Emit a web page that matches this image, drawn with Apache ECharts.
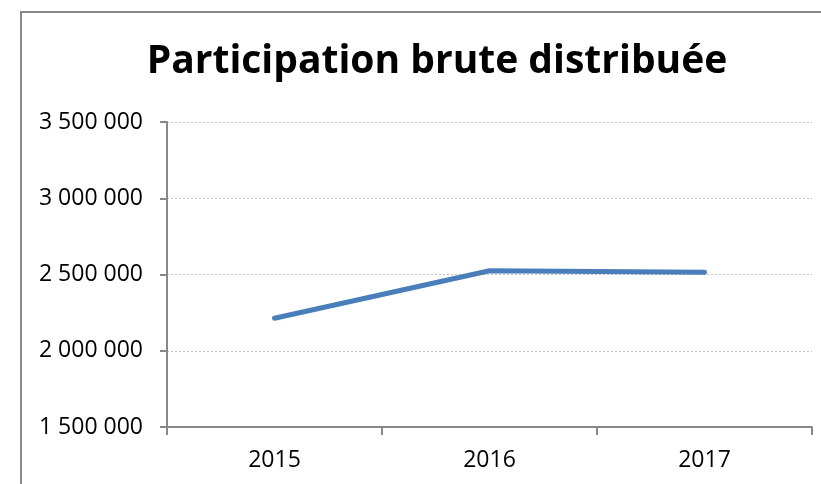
<!DOCTYPE html>
<html>
<head>
<meta charset="utf-8">
<script src="https://cdn.jsdelivr.net/npm/echarts@6/dist/echarts.min.js"></script>
<style>
  html, body { margin: 0; padding: 0; background: #fff; }
  #chart { width: 821px; height: 484px; }
</style>
</head>
<body>
<div id="chart"></div>
<script>
// données
var annees = ["2015", "2016", "2017"];
var participation = [2213000, 2525000, 2514000];
var graduations = [1500000, 2000000, 2500000, 3000000, 3500000];

function formatNombre(v) {
  return String(v).replace(/\B(?=(\d{3})+(?!\d))/g, " ");
}

var myChart = echarts.init(document.getElementById("chart"));

var option = {
  animation: false,
  textStyle: { fontFamily: "Open Sans" },
  title: {
    text: "Participation brute distribuée",
    left: 432,
    top: 37,
    textAlign: "center",
    textStyle: {
      fontFamily: "Open Sans",
      fontWeight: "bold",
      fontSize: 39,
      color: "#000"
    }
  },
  graphic: [
    {
      type: "rect",
      shape: { x: 21, y: 12, width: 900, height: 600 },
      style: { fill: "none", stroke: "#888", lineWidth: 2 },
      silent: true
    }
  ],
  grid: { left: 167, right: 9, top: 122, bottom: 57 },
  xAxis: {
    type: "category",
    data: annees,
    boundaryGap: true,
    axisLine: { lineStyle: { color: "#888", width: 2 } },
    axisTick: { show: true, length: 8, lineStyle: { color: "#888", width: 2 } },
    axisLabel: { color: "#000", fontSize: 23, margin: 22 }
  },
  yAxis: {
    type: "value",
    min: graduations[0],
    max: graduations[graduations.length - 1],
    interval: 500000,
    axisLine: { show: true, lineStyle: { color: "#888", width: 2 } },
    axisTick: { show: true, length: 7, lineStyle: { color: "#888", width: 2 } },
    axisLabel: { color: "#000", fontSize: 23, margin: 24, formatter: formatNombre },
    splitLine: { lineStyle: { color: "#c0c0c0", type: [2, 2], width: 1 } }
  },
  series: [
    {
      name: "Participation brute distribuée",
      type: "line",
      data: participation,
      showSymbol: false,
      lineStyle: { color: "#4a7ebb", width: 5, cap: "round", join: "round" }
    }
  ]
};

myChart.setOption(option);
</script>
</body>
</html>
